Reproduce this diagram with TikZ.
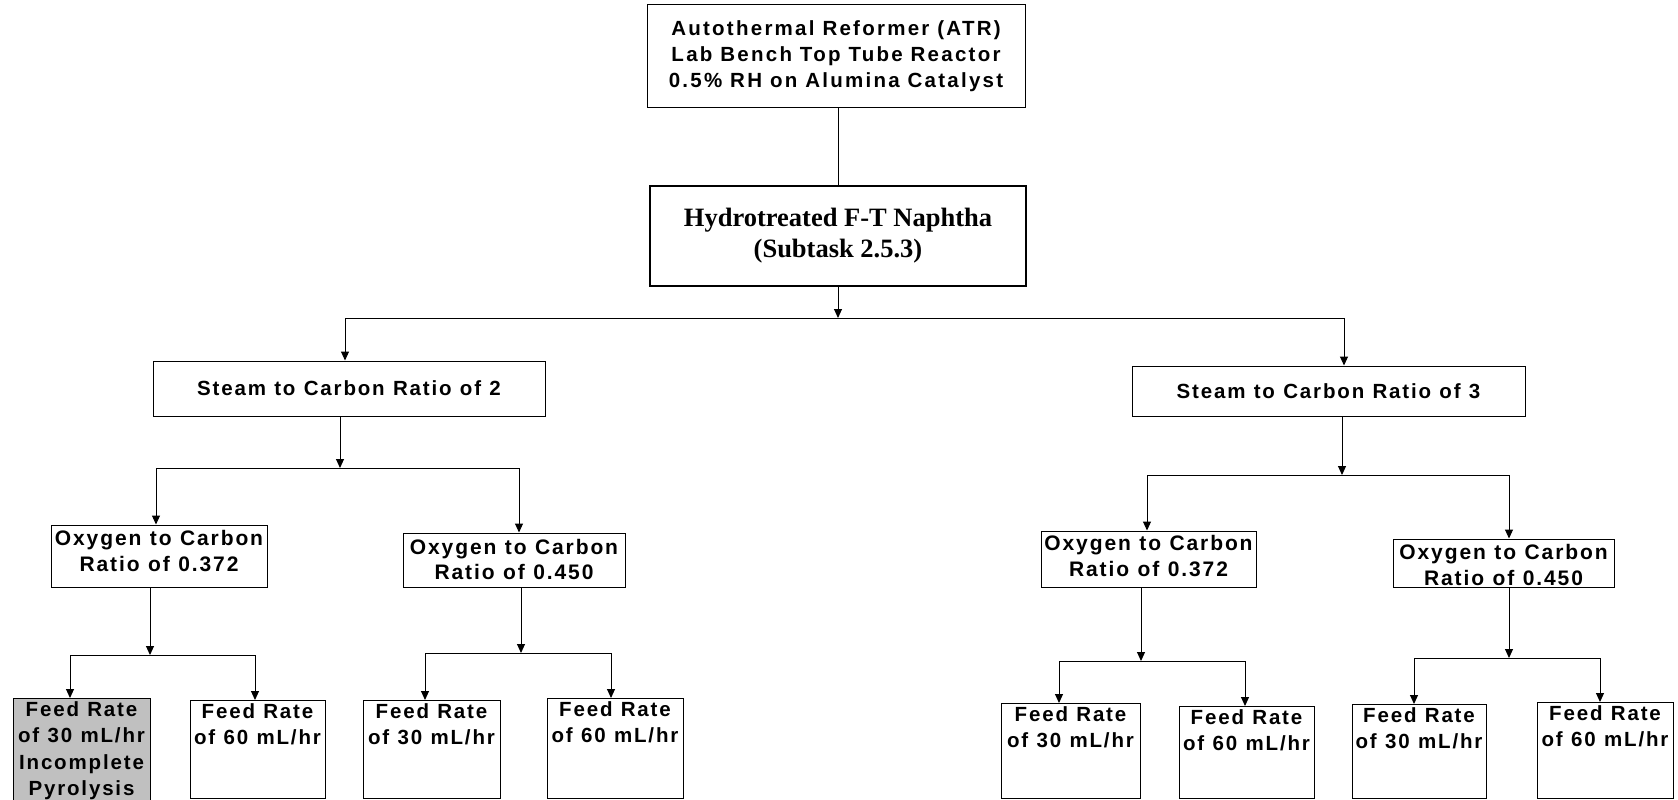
\documentclass[tikz,border=0pt]{standalone}
\usepackage{fontspec}
\setmainfont{Liberation Sans}
\newfontfamily\tnr{Liberation Serif}
\newfontfamily\arA[LetterSpace=11]{Liberation Sans}
\newfontfamily\arB[LetterSpace=9,WordSpace=1.1]{Liberation Sans}
\usetikzlibrary{arrows.meta,calc}
\definecolor{boxgray}{HTML}{C0C0C0}
\tikzset{
  box/.style={draw=black, line width=1pt, inner sep=0pt, align=center, fill=white},
  arr/.style={line width=1pt, -{Triangle[length=9pt,width=8pt]}},
  ln/.style={line width=1pt},
  feedtxt/.style={font=\arB\bfseries\fontsize{20.5}{26.5}\selectfont, align=center, inner sep=0pt, anchor=north}
}
\begin{document}
\begin{tikzpicture}[x=1pt,y=-1pt]
\useasboundingbox (0,0) rectangle (1678,800);
\begin{scope}
\clip (0,0) rectangle (1678,800);
% top boxes
\node[box, minimum width=378pt, minimum height=102pt, font=\arA\bfseries\fontsize{20.5}{26.3}\selectfont] (atr) at (836,56)
  {Autothermal Reformer (ATR)\\Lab Bench Top Tube Reactor\\0.5\% RH on Alumina Catalyst};
\node[box, line width=2.2pt, minimum width=376pt, minimum height=100pt, font=\tnr\bfseries\fontsize{26.5}{31}\selectfont] (hyd) at (838,236)
  {Hydrotreated F-T Naphtha\\(Subtask 2.5.3)};
% steam boxes
\node[box, minimum width=392pt, minimum height=55pt, font=\arB\bfseries\fontsize{20.5}{26}\selectfont] (s2) at (349,388.5) {Steam to Carbon Ratio of 2};
\node[box, minimum width=393pt, minimum height=50pt, font=\arB\bfseries\fontsize{20.5}{26}\selectfont] (s3) at (1328.5,391) {Steam to Carbon Ratio of 3};
% oxygen boxes
\tikzset{oxy/.style={box, font=\arB\bfseries\fontsize{21}{25.5}\selectfont}}
\node[oxy, minimum width=216pt, minimum height=62pt] (o1) at (159,556) {};
\node[oxy, minimum width=222pt, minimum height=54pt] (o2) at (514,560) {};
\node[oxy, minimum width=215pt, minimum height=56pt] (o3) at (1148.5,559) {};
\node[oxy, minimum width=221pt, minimum height=48pt] (o4) at (1503.5,563) {};
\node[oxy, draw=none, fill=none] (o1t) at (159,551) {Oxygen to Carbon\\Ratio of 0.372};
\node[oxy, draw=none, fill=none] (o2t) at (514,559.5) {Oxygen to Carbon\\Ratio of 0.450};
\node[oxy, draw=none, fill=none] (o3t) at (1148.5,556) {Oxygen to Carbon\\Ratio of 0.372};
\node[oxy, draw=none, fill=none] (o4t) at (1503.5,565) {Oxygen to Carbon\\Ratio of 0.450};
% feed boxes
\node[box, fill=boxgray, minimum width=137pt, minimum height=112pt, anchor=north] (f1) at (81.5,698) {};
\node[box, minimum width=135pt, minimum height=98pt, anchor=north] (f2) at (257.5,700) {};
\node[box, minimum width=137pt, minimum height=98pt, anchor=north] (f3) at (431.5,700) {};
\node[box, minimum width=136pt, minimum height=100pt, anchor=north] (f4) at (615,698) {};
\node[box, minimum width=139pt, minimum height=95pt, anchor=north] (f5) at (1070.5,703) {};
\node[box, minimum width=135pt, minimum height=92pt, anchor=north] (f6) at (1246.5,706) {};
\node[box, minimum width=134pt, minimum height=94pt, anchor=north] (f7) at (1419,704) {};
\node[box, minimum width=136pt, minimum height=96pt, anchor=north] (f8) at (1605,702) {};
\node[feedtxt] (f1t) at ($(f1.north)+(0,3)$) {Feed Rate\\of 30 mL/hr\\Incomplete\\Pyrolysis};
\node[feedtxt] (f2t) at ($(f2.north)+(0,3)$) {Feed Rate\\of 60 mL/hr};
\node[feedtxt] (f3t) at ($(f3.north)+(0,3)$) {Feed Rate\\of 30 mL/hr};
\node[feedtxt] (f4t) at ($(f4.north)+(0,3)$) {Feed Rate\\of 60 mL/hr};
\node[feedtxt] (f5t) at ($(f5.north)+(0,3)$) {Feed Rate\\of 30 mL/hr};
\node[feedtxt] (f6t) at ($(f6.north)+(0,3)$) {Feed Rate\\of 60 mL/hr};
\node[feedtxt] (f7t) at ($(f7.north)+(0,3)$) {Feed Rate\\of 30 mL/hr};
\node[feedtxt] (f8t) at ($(f8.north)+(0,3)$) {Feed Rate\\of 60 mL/hr};
% junction coordinates
\coordinate (j0) at (838,318);
\coordinate (j0L) at (345,318);
\coordinate (j0R) at (1344,318);
\coordinate (j1) at (340,468);
\coordinate (j1L) at (156,468);
\coordinate (j1R) at (519,468);
\coordinate (j2) at (150,655);
\coordinate (j2L) at (70,655);
\coordinate (j2R) at (255,655);
\coordinate (j3) at (521,653);
\coordinate (j3L) at (425,653);
\coordinate (j3R) at (611,653);
\coordinate (j4) at (1342,475);
\coordinate (j4L) at (1147,475);
\coordinate (j4R) at (1509,475);
\coordinate (j5) at (1141,661);
\coordinate (j5L) at (1059,661);
\coordinate (j5R) at (1245,661);
\coordinate (j6) at (1509,658);
\coordinate (j6L) at (1414,658);
\coordinate (j6R) at (1600,658);
% connectors
\draw[ln] (hyd.north |- atr.south) -- (hyd.north);
\draw[arr] (hyd.south) -- (j0);
\draw[ln] (j0L) -- (j0R);
\draw[arr] (j0L) -- (j0L |- s2.north);
\draw[arr] (j0R) -- (j0R |- s3.north);
% left subtree
\draw[arr] (j1 |- s2.south) -- (j1);
\draw[ln] (j1L) -- (j1R);
\draw[arr] (j1L) -- (j1L |- o1.north);
\draw[arr] (j1R) -- (j1R |- o2.north);
\draw[arr] (j2 |- o1.south) -- (j2);
\draw[ln] (j2L) -- (j2R);
\draw[arr] (j2L) -- (j2L |- f1.north);
\draw[arr] (j2R) -- (j2R |- f2.north);
\draw[arr] (j3 |- o2.south) -- (j3);
\draw[ln] (j3L) -- (j3R);
\draw[arr] (j3L) -- (j3L |- f3.north);
\draw[arr] (j3R) -- (j3R |- f4.north);
% right subtree
\draw[arr] (j4 |- s3.south) -- (j4);
\draw[ln] (j4L) -- (j4R);
\draw[arr] (j4L) -- (j4L |- o3.north);
\draw[arr] (j4R) -- (j4R |- o4.north);
\draw[arr] (j5 |- o3.south) -- (j5);
\draw[ln] (j5L) -- (j5R);
\draw[arr] (j5L) -- (j5L |- f5.north);
\draw[arr] (j5R) -- (j5R |- f6.north);
\draw[arr] (j6 |- o4.south) -- (j6);
\draw[ln] (j6L) -- (j6R);
\draw[arr] (j6L) -- (j6L |- f7.north);
\draw[arr] (j6R) -- (j6R |- f8.north);
\end{scope}
\end{tikzpicture}
\end{document}
